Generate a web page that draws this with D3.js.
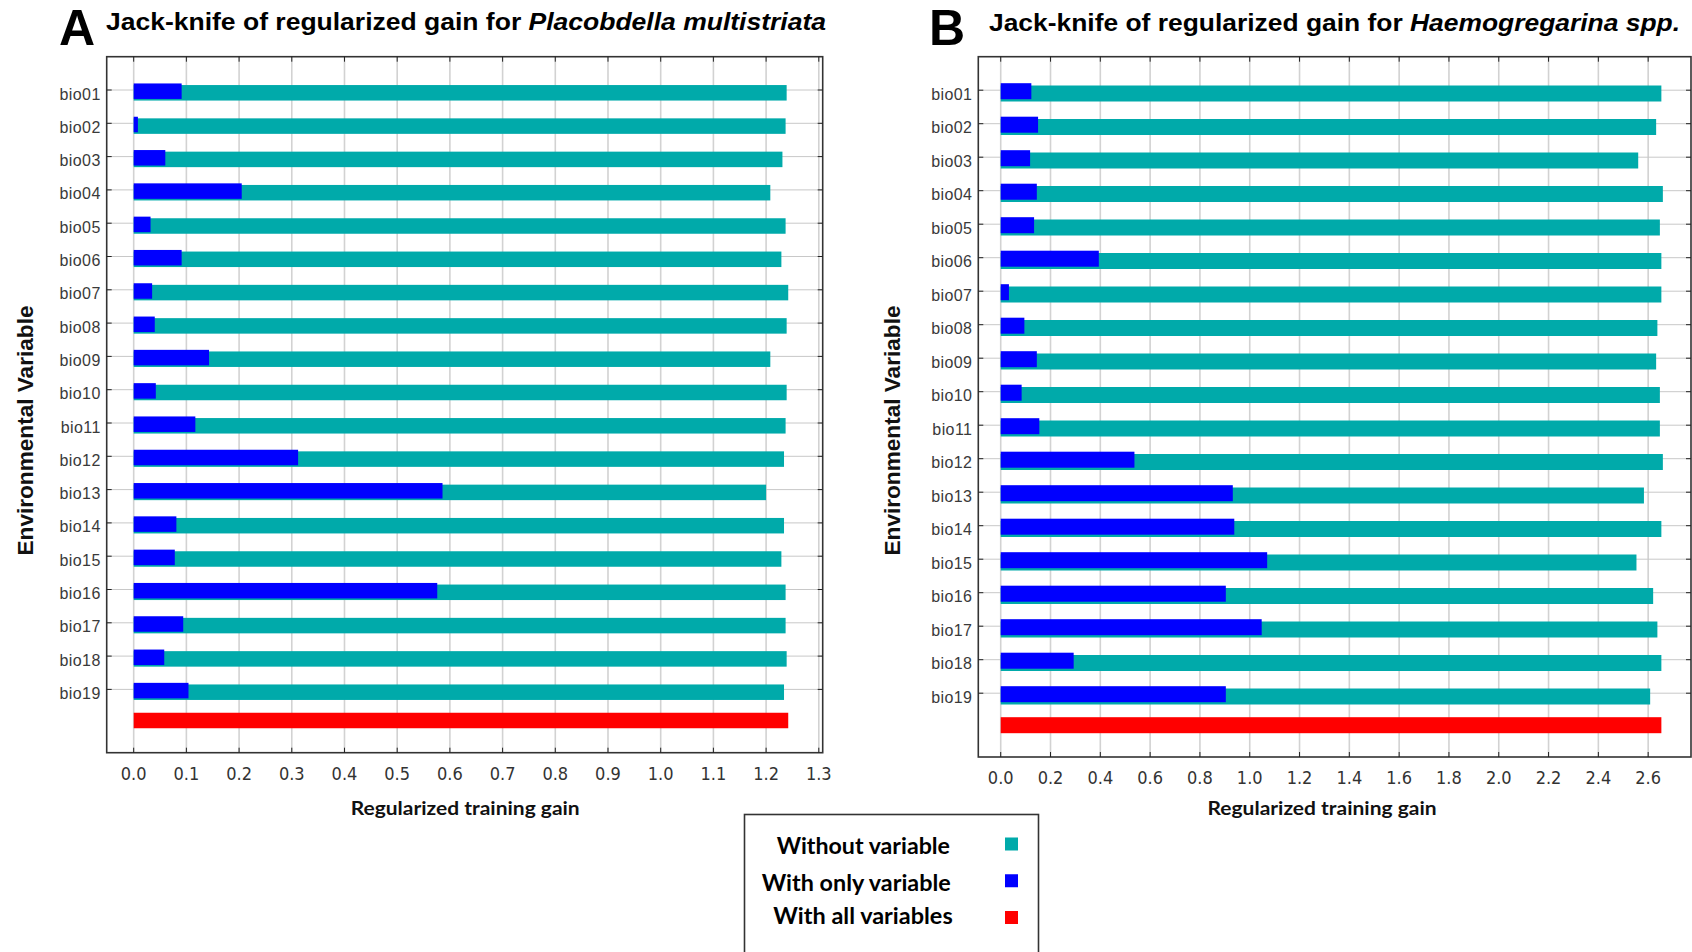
<!DOCTYPE html>
<html>
<head>
<meta charset="utf-8">
<script src="https://cdn.jsdelivr.net/npm/d3@7"></script>
<style>
  html, body { margin: 0; padding: 0; background: #fff; }
  svg { display: block; }
</style>
</head>
<body>
<svg id="chart" width="1692" height="952"></svg>
<script>
// ---------------- DATA ----------------
const categories = ["bio01","bio02","bio03","bio04","bio05","bio06","bio07","bio08","bio09","bio10",
                    "bio11","bio12","bio13","bio14","bio15","bio16","bio17","bio18","bio19"];

// Panel A: Placobdella multistriata
const withoutVarA = [1.239,1.237,1.231,1.208,1.237,1.229,1.242,1.239,1.208,1.239,
                     1.237,1.234,1.200,1.234,1.229,1.237,1.237,1.239,1.234];
const onlyVarA    = [0.091,0.008,0.060,0.205,0.032,0.091,0.035,0.040,0.143,0.042,
                     0.117,0.312,0.586,0.081,0.078,0.576,0.094,0.058,0.104];
const allVarsA = 1.242;
const ticksA = [0.0,0.1,0.2,0.3,0.4,0.5,0.6,0.7,0.8,0.9,1.0,1.1,1.2,1.3];

// Panel B: Haemogregarina spp.
const withoutVarB = [2.653,2.632,2.560,2.659,2.647,2.653,2.653,2.637,2.632,2.647,
                     2.647,2.659,2.583,2.653,2.553,2.620,2.637,2.653,2.608];
const onlyVarB    = [0.123,0.150,0.118,0.145,0.134,0.394,0.033,0.095,0.145,0.084,
                     0.155,0.537,0.932,0.938,1.070,0.904,1.048,0.293,0.904];
const allVarsB = 2.653;
const ticksB = [0.0,0.2,0.4,0.6,0.8,1.0,1.2,1.4,1.6,1.8,2.0,2.2,2.4,2.6];

const legendLabels = ["Without variable","With only variable","With all variables"];
const legendColors = ["#00AAAA","#0000FF","#FF0000"];

// ---------------- DRAW ----------------
const svg = d3.select("#chart");

function panel(cfg) {
  const g = svg.append("g");
  const x = d3.scaleLinear().domain(cfg.xDomain).range([cfg.left, cfg.right]);
  const y = d3.scaleLinear().domain([0, categories.length + 2])
    .range([cfg.top, cfg.top + (categories.length + 2) * cfg.rowStep]);

  // vertical grid
  g.append("g").selectAll("line").data(cfg.ticks).join("line")
    .attr("x1", d => x(d)).attr("x2", d => x(d))
    .attr("y1", cfg.top).attr("y2", cfg.bottom)
    .attr("stroke", "#d2d2d2").attr("stroke-width", 1.6);

  // horizontal grid
  g.append("g").selectAll("line").data(categories).join("line")
    .attr("x1", cfg.left).attr("x2", cfg.right)
    .attr("y1", (d, i) => y(i + 1)).attr("y2", (d, i) => y(i + 1))
    .attr("stroke", "#c8c8c8").attr("stroke-width", 1);

  const barH = cfg.barH;
  // without-variable bars
  g.append("g").selectAll("rect").data(cfg.without).join("rect")
    .attr("x", x(0)).attr("width", d => x(d) - x(0))
    .attr("y", (d, i) => y(i + 1) + cfg.tealOff - barH / 2).attr("height", barH)
    .attr("fill", legendColors[0]);
  // only-variable bars
  g.append("g").selectAll("rect").data(cfg.only).join("rect")
    .attr("x", x(0)).attr("width", d => x(d) - x(0))
    .attr("y", (d, i) => y(i + 1) + cfg.blueOff - barH / 2).attr("height", barH)
    .attr("fill", legendColors[1]);
  // all variables bar
  g.append("rect")
    .attr("x", x(0)).attr("width", x(cfg.all) - x(0))
    .attr("y", y(categories.length + 1) + cfg.redOff - barH / 2).attr("height", barH)
    .attr("fill", legendColors[2]);

  // frame
  g.append("rect")
    .attr("x", cfg.left).attr("y", cfg.top)
    .attr("width", cfg.right - cfg.left).attr("height", cfg.bottom - cfg.top)
    .attr("fill", "none").attr("stroke", "#333").attr("stroke-width", 1.6);

  // x ticks (inward top & bottom)
  const tk = 5;
  g.append("g").selectAll("line").data(cfg.ticks).join("line")
    .attr("x1", d => x(d)).attr("x2", d => x(d))
    .attr("y1", cfg.bottom).attr("y2", cfg.bottom - tk)
    .attr("stroke", "#222").attr("stroke-width", 1);
  g.append("g").selectAll("line").data(cfg.ticks).join("line")
    .attr("x1", d => x(d)).attr("x2", d => x(d))
    .attr("y1", cfg.top).attr("y2", cfg.top + tk)
    .attr("stroke", "#222").attr("stroke-width", 1);
  // y ticks (inward left & right)
  g.append("g").selectAll("line").data(categories).join("line")
    .attr("x1", cfg.left).attr("x2", cfg.left + tk)
    .attr("y1", (d, i) => y(i + 1)).attr("y2", (d, i) => y(i + 1))
    .attr("stroke", "#222").attr("stroke-width", 1);
  g.append("g").selectAll("line").data(categories).join("line")
    .attr("x1", cfg.right).attr("x2", cfg.right - tk)
    .attr("y1", (d, i) => y(i + 1)).attr("y2", (d, i) => y(i + 1))
    .attr("stroke", "#222").attr("stroke-width", 1);

  // x tick labels
  const fmt = d3.format(".1f");
  g.append("g").selectAll("text").data(cfg.ticks).join("text")
    .attr("x", d => x(d)).attr("y", cfg.bottom + 27)
    .attr("text-anchor", "middle")
    .attr("font-family", "'Liberation Sans Narrow','Arial Narrow','DejaVu Sans Condensed',sans-serif")
    .attr("font-size", 18).attr("fill", "#333")
    .text(d => fmt(d));

  // y labels
  g.append("g").selectAll("text").data(categories).join("text")
    .attr("x", cfg.left - 6).attr("y", (d, i) => y(i + 1) + 9.5)
    .attr("text-anchor", "end")
    .attr("font-family", "'Liberation Sans',Arial,sans-serif")
    .attr("font-size", 16).attr("fill", "#3a3a3a")
    .attr("letter-spacing", 0.4)
    .text(d => d);

  // x axis title
  g.append("text")
    .attr("x", (cfg.left + cfg.right) / 2 + cfg.xTitleShift).attr("y", 815)
    .attr("text-anchor", "middle")
    .attr("font-family", "Lato,'Open Sans',sans-serif").attr("font-weight", "bold")
    .attr("font-size", 19).attr("fill", "#111")
    .attr("textLength", 229).attr("lengthAdjust", "spacingAndGlyphs")
    .text("Regularized training gain");

  // y axis title
  g.append("text")
    .attr("transform", `translate(${cfg.yTitleX},430.5) rotate(-90)`)
    .attr("text-anchor", "middle")
    .attr("font-family", "'Liberation Sans',Arial,sans-serif").attr("font-weight", "bold")
    .attr("font-size", 22).attr("fill", "#111")
    .attr("textLength", 250).attr("lengthAdjust", "spacingAndGlyphs")
    .text("Environmental Variable");

  // panel letter
  g.append("text")
    .attr("x", cfg.letterX).attr("y", cfg.letterY)
    .attr("font-family", "'Liberation Sans',Arial,sans-serif").attr("font-weight", "bold")
    .attr("font-size", 50).attr("fill", "#000")
    .text(cfg.letter);

  // title
  const t = g.append("text")
    .attr("x", cfg.titleX).attr("y", cfg.titleY)
    .attr("font-family", "'Liberation Sans',Arial,sans-serif").attr("font-weight", "bold")
    .attr("font-size", 23).attr("fill", "#000")
    .attr("textLength", cfg.titleLen).attr("lengthAdjust", "spacingAndGlyphs");
  t.append("tspan").text("Jack-knife of regularized gain for ");
  t.append("tspan").attr("font-style", "italic").text(cfg.species);
}

panel({
  letter: "A", letterX: 59, letterY: 45,
  titleX: 106, titleY: 29.5, titleLen: 720, species: "Placobdella multistriata",
  left: 106.7, right: 822.7, top: 56.7, bottom: 752.7, rowStep: 33.3,
  xDomain: [-0.0512, 1.3074], ticks: ticksA,
  without: withoutVarA, only: onlyVarA, all: allVarsA,
  barH: 15.5, tealOff: 2.8, blueOff: 1.2, redOff: -2.2,
  yTitleX: 33, xTitleShift: 0.5
});

panel({
  letter: "B", letterX: 929, letterY: 45,
  titleX: 989, titleY: 30.5, titleLen: 691, species: "Haemogregarina spp.",
  left: 978.3, right: 1691, top: 56.7, bottom: 757, rowStep: 33.5,
  xDomain: [-0.09, 2.772], ticks: ticksB,
  without: withoutVarB, only: onlyVarB, all: allVarsB,
  barH: 16, tealOff: 3.3, blueOff: 1.0, redOff: -1.5,
  yTitleX: 900, xTitleShift: -12.6
});

// ---------------- LEGEND ----------------
const legend = svg.append("g");
legend.append("rect")
  .attr("x", 744.5).attr("y", 814.5).attr("width", 294).attr("height", 150)
  .attr("fill", "#fff").attr("stroke", "#333").attr("stroke-width", 1.6);

const legStartX = [776.7, 761.7, 773.3];
const legLen = [173.3, 189, 179.4];
const legBase = [854.2, 891, 923.5];
const legY = d3.scalePoint().domain(legendLabels).range([844, 917.5]);

legend.selectAll("text.leg").data(legendLabels).join("text")
  .attr("class", "leg")
  .attr("x", (d, i) => legStartX[i]).attr("y", (d, i) => legBase[i])
  .attr("font-family", "Lato,'Open Sans',sans-serif").attr("font-weight", "bold")
  .attr("font-size", 23).attr("fill", "#000")
  .attr("textLength", (d, i) => legLen[i]).attr("lengthAdjust", "spacingAndGlyphs")
  .text(d => d);

legend.selectAll("rect.sw").data(legendLabels).join("rect")
  .attr("class", "sw")
  .attr("x", 1005).attr("y", d => legY(d) - 6.5)
  .attr("width", 13).attr("height", 13)
  .attr("fill", (d, i) => legendColors[i]);
</script>
</body>
</html>
